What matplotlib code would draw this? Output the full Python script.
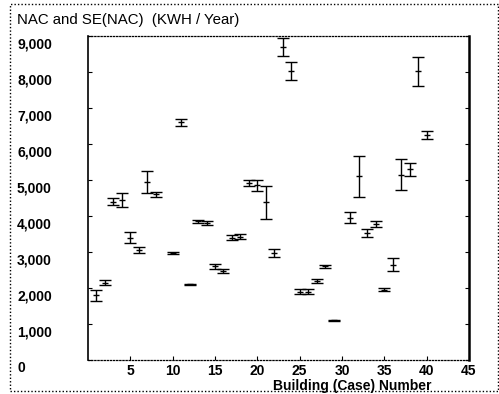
import matplotlib
matplotlib.use("Agg")
import matplotlib.pyplot as plt
from matplotlib.transforms import ScaledTranslation
from matplotlib.patches import Rectangle

# Normalized annual consumption (NAC) and its standard error per building
buildings = [1, 2, 3, 4, 5, 6, 7, 8, 10, 11, 12, 13, 14, 15, 16, 17, 18, 19, 20,
             21, 22, 23, 24, 25, 26, 27, 28, 29, 31, 32, 33, 34, 35, 36, 37, 38,
             39, 40]
nac = [1800, 2150, 4400, 4450, 3400, 3050, 4950, 4600, 2980, 6600, 2100, 3850,
       3800, 2600, 2480, 3400, 3430, 4920, 4850, 4380, 2980, 8700, 8030, 1900,
       1900, 2200, 2600, 1100, 3950, 5100, 3520, 3780, 1950, 2650, 5150, 5300,
       8020, 6250]
se_nac = [150, 60, 100, 200, 150, 80, 300, 80, 30, 90, 10, 50, 60, 60, 60, 80,
          80, 80, 150, 450, 110, 250, 250, 60, 60, 50, 40, 10, 150, 560, 110,
          90, 40, 180, 430, 180, 400, 120]

y_ticks = list(range(0, 9001, 1000))
x_ticks = [5, 10, 15, 20, 25, 30, 35, 40, 45]

plt.rcParams["font.family"] = ["Liberation Sans", "DejaVu Sans"]

W, H = 499, 394
fig = plt.figure(figsize=(W / 100, H / 100), dpi=100)
ax = fig.add_axes([88 / W, 1 - 360 / H, (469 - 88) / W, (360 - 36) / H])

ax.errorbar(buildings, nac, yerr=se_nac, fmt="_", color="black", ms=4,
            mew=1.0, ecolor="black", elinewidth=1.0, capsize=4.5,
            capthick=1.2)

ax.set_xlim(0, 45)
ax.set_ylim(0, 9000)
ax.set_xticks(x_ticks)
ax.set_xticklabels([str(t) for t in x_ticks], fontsize=10, fontweight="bold")
ax.set_yticks(y_ticks)
ax.set_yticklabels([f"{t:,}" for t in y_ticks], fontsize=10,
                   fontweight="bold", ha="left")
# labels sit flush left, well away from the axis line
ax.tick_params(axis="y", direction="in", length=3, pad=(88 - 17) * 0.72,
               right=True)
ax.tick_params(axis="x", direction="in", length=3, pad=3)
shift = ScaledTranslation(0, -7 / 100, fig.dpi_scale_trans)
for lbl in ax.get_yticklabels():
    lbl.set_transform(lbl.get_transform() + shift)

for side in ("top", "bottom"):
    ax.spines[side].set_linestyle((0, (1, 1.5)))
    ax.spines[side].set_linewidth(0.9)
ax.spines["left"].set_linewidth(1.2)
ax.spines["right"].set_linewidth(1.8)

fig.text(17 / W, 1 - 20 / H, "NAC and SE(NAC)  (KWH / Year)", fontsize=10.8,
         ha="left", va="center")
fig.text(273 / W, 1 - 386 / H, "Building (Case) Number", fontsize=10,
         fontweight="bold", ha="left", va="center")

# dotted frame around the whole graphic
fig.patches.append(Rectangle((10 / W, 1 - 391 / H), (498 - 10) / W,
                             (391 - 4) / H, transform=fig.transFigure,
                             fill=False, edgecolor="black", linewidth=1.0,
                             linestyle=(0, (1, 1.5))))

fig.savefig("out.png", dpi=100)
